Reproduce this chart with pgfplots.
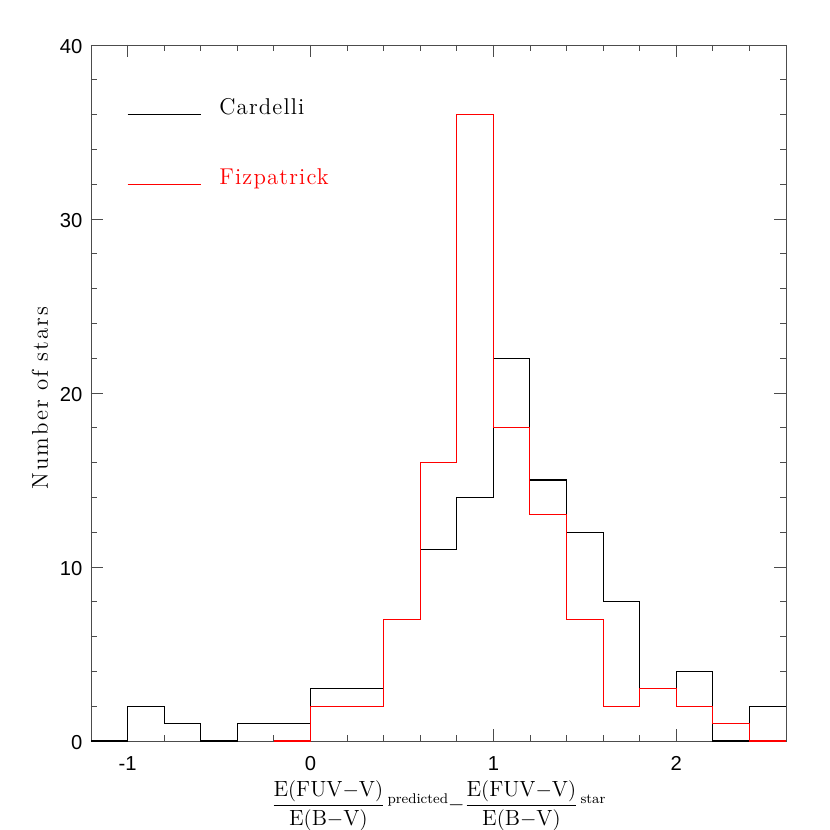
\documentclass[border=0pt]{standalone}
\usepackage{fontspec}
\usepackage{amsmath}
\usepackage{pgfplots}
\pgfplotsset{compat=1.18}
\newfontfamily\sans{Liberation Sans}
\newfontfamily\lmlabel[Extension=.otf, LetterSpace=9]{lmroman12-regular}
\newfontfamily\lmlegend[Extension=.otf, LetterSpace=5]{lmroman12-regular}

\begin{document}
\begin{tikzpicture}
\useasboundingbox (-1.82cm,-1.78cm) rectangle (14.78cm,14.82cm);
\begin{axis}[
  at={(0,0)}, anchor=south west,
  scale only axis,
  width=13.9cm, height=13.92cm,
  xmin=-1.2, xmax=2.6,
  ymin=0, ymax=40,
  xtick={-1,0,1,2}, xticklabels={-1,0,1,2},
  minor xtick={-1.2,-1.0,...,2.6},
  ytick={0,10,20,30,40}, yticklabels={0,10,20,30,40},
  minor ytick={0,2,...,40},
  tick align=inside,
  major tick length=0.24cm,
  minor tick length=0.12cm,
  tick style={black!70, line width=0.5pt},
  axis line style={black!70, line width=0.5pt},
  ticklabel style={font=\sans\fontsize{11.5}{13}\selectfont},
  xticklabel style={inner sep=0pt, yshift=-0.31cm},
  yticklabel style={xshift=-0.05cm, yshift=-0.03cm},
  ylabel={Number of stars},
  ylabel style={font=\lmlabel\fontsize{13}{15}\selectfont, at={(axis description cs:0,0.5)}, anchor=center, yshift=1.02cm, xshift=-0.1cm},
  xlabel={$\displaystyle\frac{\mathrm{E(FUV{-}V)}}{\mathrm{E(B{-}V)}}\raisebox{4pt}{\footnotesize\,predicted}{-}\frac{\mathrm{E(FUV{-}V)}}{\mathrm{E(B{-}V)}}\raisebox{4pt}{\footnotesize\,star}$},
  xlabel style={font=\fontsize{12.5}{15}\selectfont, inner sep=0pt, at={(axis description cs:0.5,0)}, anchor=center, yshift=-1.29cm},
]
\addplot[const plot, black, line width=0.6pt] coordinates {
  (-1.2,0) (-1.0,2) (-0.8,1) (-0.6,0) (-0.4,1) (-0.2,1) (0,3) (0.2,3)
  (0.4,7) (0.6,11) (0.8,14) (1.0,22) (1.2,15) (1.4,12) (1.6,8) (1.8,3)
  (2.0,4) (2.2,0) (2.4,2) (2.6,2)
};
\addplot[const plot, red, line width=0.6pt] coordinates {
  (-0.2,0) (0,2) (0.2,2) (0.4,7) (0.6,16) (0.8,36) (1.0,18) (1.2,13)
  (1.4,7) (1.6,2) (1.8,3) (2.0,2) (2.2,1) (2.4,0) (2.6,0)
};
% legend
\addplot[black, line width=0.6pt] coordinates {(-1.0,36) (-0.6,36)};
\addplot[red, line width=0.6pt] coordinates {(-1.0,32) (-0.6,32)};
\node[anchor=base west, inner sep=0pt, font=\lmlegend\fontsize{13}{15}\selectfont] at (axis cs:-0.5,36) {Cardelli};
\node[anchor=base west, inner sep=0pt, text=red, font=\lmlegend\fontsize{13}{15}\selectfont] at (axis cs:-0.5,32) {Fizpatrick};
\end{axis}
\end{tikzpicture}
\end{document}
